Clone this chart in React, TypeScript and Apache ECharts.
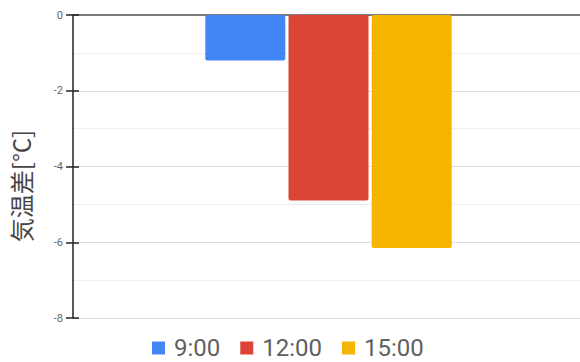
import React, { useEffect, useRef } from "react";
import * as echarts from "echarts";

const categories = [""];
const seriesNames = ["9:00", "12:00", "15:00"];
const values9 = [-1.2];
const values12 = [-4.9];
const values15 = [-6.15];
const colors = ["#4285F4", "#DB4437", "#F4B400"];
const yTitle = "気温差[°C]";

export default function App() {
  const ref = useRef<HTMLDivElement>(null);

  useEffect(() => {
    const chart = echarts.init(ref.current!, null, { renderer: "svg" });
    const font = "Roboto, 'Noto Sans CJK JP', sans-serif";
    const seriesData = [values9, values12, values15];
    const yBase = {
      type: "value" as const,
      min: -8,
      max: 0,
      interval: 2,
    };
    chart.setOption({
      animation: false,
      textStyle: { fontFamily: font },
      grid: { left: 73, right: 0, top: 15, bottom: 44 },
      legend: {
        bottom: 0,
        left: 147,
        padding: [5, 5, 2, 5],
        icon: "rect",
        itemWidth: 13,
        itemHeight: 13,
        itemGap: 20,
        textStyle: { fontSize: 24, color: "#5f5f5f", fontFamily: font, padding: [0, 0, 0, 4] },
        data: seriesNames,
      },
      xAxis: {
        type: "category",
        data: categories,
        axisLine: { show: true, onZero: true, lineStyle: { color: "#555", width: 1.5 } },
        axisTick: { show: false },
        axisLabel: { show: false },
      },
      yAxis: [
        {
          ...yBase,
          axisLine: { show: true, lineStyle: { color: "#222", width: 1.5 } },
          axisTick: { show: true, length: 7, lineStyle: { color: "#222", width: 1.5 } },
          axisLabel: { fontSize: 11, color: "#666", margin: 10 },
          splitLine: { show: true, lineStyle: { color: "#ddd", width: 1 } },
          minorTick: { show: false, splitNumber: 2 },
          minorSplitLine: { show: true, lineStyle: { color: "#eee", width: 1 } },
        },
        {
          ...yBase,
          position: "left",
          axisLine: { show: false },
          axisTick: { show: true, inside: true, length: 6, lineStyle: { color: "#222", width: 1.5 } },
          axisLabel: { show: false },
          splitLine: { show: false },
        },
      ],
      series: seriesNames.map((name, i) => ({
        name,
        type: "bar",
        yAxisIndex: 0,
        data: seriesData[i],
        barWidth: 80,
        barGap: "4%",
        itemStyle: { color: colors[i], borderRadius: 2 },
      })),
      graphic: [
        {
          type: "text",
          x: 20,
          y: 186,
          rotation: Math.PI / 2,
          style: {
            text: yTitle,
            fontSize: 24,
            fill: "#444",
            fontFamily: "'Noto Sans CJK JP', sans-serif",
            align: "center",
            verticalAlign: "middle",
          },
        },
      ],
    });
    return () => chart.dispose();
  }, []);

  return (
    <div
      style={{
        position: "absolute",
        left: 0,
        top: 0,
        width: 580,
        height: 362,
        overflow: "hidden",
      }}
    >
      <div ref={ref} style={{ width: 584, height: 362 }} />
    </div>
  );
}
